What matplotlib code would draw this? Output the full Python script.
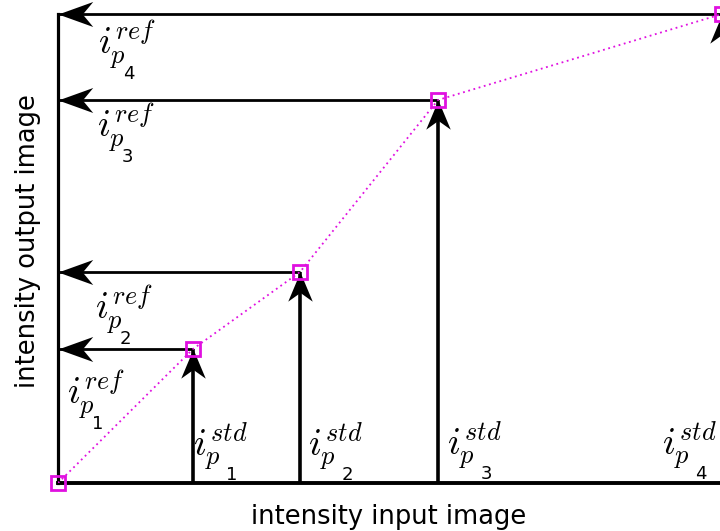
import matplotlib
matplotlib.use("Agg")
import matplotlib.pyplot as plt
import numpy as np
from matplotlib.path import Path

plt.rcParams["mathtext.fontset"] = "cm"
plt.rcParams["font.family"] = "DejaVu Sans"

# landmark intensities (standard scale on x, reference scale on y)
x_std = [0, 135, 242, 380, 664]
y_ref = [0, 134, 211, 383, 469]
landmark_ids = ["1", "2", "3", "4"]
ref_label = r"$i^{ref}_{p}$"
std_label = r"$i^{std}_{p}$"

# label anchors: left edge / baseline of the "i" (layout only)
ref_pos = [(9, 78), (37, 163), (39, 345), (40, 428)]
std_pos = [(135, 27), (250, 27), (389, 28), (604, 28)]
REF_DIGIT_OFF = (18, -17.3)   # points, from the anchor
STD_DIGIT_OFF = (24, -17.0)

MAG = "#e010e0"

# notched arrow heads, tip at the marker origin
left_head = Path([(0, 0), (1, 0.36), (0.7, 0), (1, -0.36), (0, 0)],
                 [Path.MOVETO, Path.LINETO, Path.LINETO, Path.LINETO, Path.CLOSEPOLY])
up_head = Path([(0, 0), (0.42, -1), (0, -0.7), (-0.42, -1), (0, 0)],
               [Path.MOVETO, Path.LINETO, Path.LINETO, Path.LINETO, Path.CLOSEPOLY])

fig = plt.figure(figsize=(7.2, 5.31), dpi=100)
ax = fig.add_axes([58 / 720, 48 / 531, 662 / 720, 483 / 531])
ax.set_xlim(0, 662)
ax.set_ylim(0, 483)

xs = np.array(x_std[1:])
ys = np.array(y_ref[1:])

ax.vlines(xs, 0, ys, color="black", lw=2.6, zorder=2)
ax.hlines(ys, 0, xs, color="black", lw=2.0, zorder=2)
ax.plot(x_std, y_ref, ls=(0, (1, 2)), color=MAG, lw=1.3, zorder=3)
ax.plot(xs, ys, ls="none", marker=up_head, ms=42, color="black", mew=0, zorder=4)
ax.plot(np.zeros_like(ys), ys, ls="none", marker=left_head, ms=50, color="black",
        mew=0, zorder=4, clip_on=False)
ax.plot(x_std, y_ref, ls="none", marker="s", ms=10.5, mfc="none", mec=MAG,
        mew=2.0, zorder=5, clip_on=False)


def put_label(pos, math, digit, off):
    ax.text(pos[0], pos[1], math, fontsize=27, ha="left", va="baseline")
    ax.annotate(digit, xy=pos, xytext=off, textcoords="offset points",
                fontsize=13, ha="left", va="baseline")


for pos, d in zip(ref_pos, landmark_ids):
    put_label(pos, ref_label, d, REF_DIGIT_OFF)
for pos, d in zip(std_pos, landmark_ids):
    put_label(pos, std_label, d, STD_DIGIT_OFF)

for side in ("top", "right"):
    ax.spines[side].set_visible(False)
ax.spines["left"].set_bounds(0, y_ref[-1])
ax.spines["left"].set_linewidth(2.3)
ax.spines["bottom"].set_linewidth(2.8)
ax.set_xticks([])
ax.set_yticks([])
ax.set_xlabel("intensity input image", fontsize=18.5, labelpad=15)
ax.set_ylabel("intensity output image", fontsize=18.5, labelpad=12)

fig.savefig("out.png", dpi=100)
